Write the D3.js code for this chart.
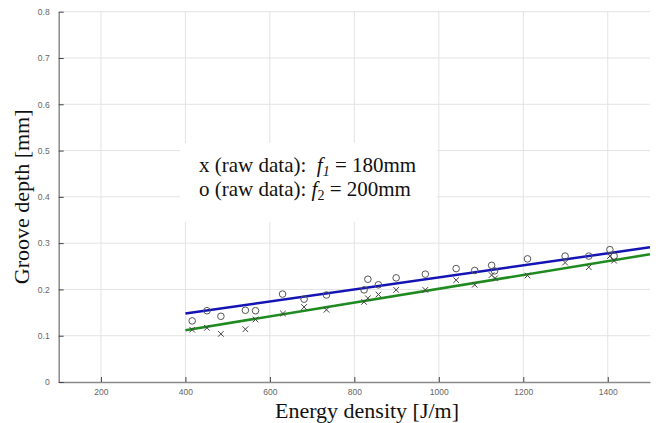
<!DOCTYPE html>
<html><head><meta charset="utf-8">
<script src="https://cdn.jsdelivr.net/npm/d3@7"></script>
<style>body{margin:0;background:#fff}</style>
</head><body>
<svg id="c" width="662" height="423"></svg>
<script>
// data
const xTicks = [200, 400, 600, 800, 1000, 1200, 1400];
const yTicks = [0, 0.1, 0.2, 0.3, 0.4, 0.5, 0.6, 0.7, 0.8];
const crossX = [416, 451, 484, 542, 566, 631, 681, 734, 823, 832, 857, 899, 968, 1041, 1085, 1125, 1133, 1210, 1299, 1355, 1405, 1415];
const crossY = [0.113, 0.117, 0.104, 0.114, 0.135, 0.148, 0.162, 0.156, 0.173, 0.181, 0.189, 0.199, 0.199, 0.220, 0.210, 0.231, 0.224, 0.230, 0.258, 0.248, 0.272, 0.262];
const circX = [416, 451, 484, 542, 566, 630, 681, 734, 823, 832, 857, 899, 968, 1041, 1085, 1125, 1132, 1210, 1299, 1355, 1405, 1415];
const circY = [0.132, 0.154, 0.142, 0.155, 0.154, 0.190, 0.179, 0.188, 0.199, 0.222, 0.210, 0.225, 0.233, 0.245, 0.241, 0.252, 0.240, 0.266, 0.272, 0.272, 0.286, 0.272];
const fitX = [400, 1500];
const fitBlue = [0.148, 0.291];
const fitGreen = [0.112, 0.276];

const svg = d3.select("#c");
const x = d3.scaleLinear().domain([100, 1500]).range([58.7, 650]);
const y = d3.scaleLinear().domain([0, 0.8]).range([382, 11.7]);

// grid
svg.append("g").selectAll("line").data(yTicks.slice(1)).join("line")
  .attr("x1", x(100)).attr("x2", x(1500)).attr("y1", d => y(d)).attr("y2", d => y(d))
  .attr("stroke", "#e3e3e3").attr("stroke-width", 1);
svg.append("g").selectAll("line").data(xTicks).join("line")
  .attr("x1", d => x(d)).attr("x2", d => x(d)).attr("y1", y(0)).attr("y2", y(0.8))
  .attr("stroke", "#e3e3e3").attr("stroke-width", 1);

// axes
const xAxis = svg.append("g").attr("transform", `translate(0,${y(0)})`)
  .call(d3.axisBottom(x).tickValues(xTicks).tickFormat(d3.format("d")).tickSizeInner(-5).tickSizeOuter(0).tickPadding(7));
const yAxis = svg.append("g").attr("transform", `translate(${x(100)},0)`)
  .call(d3.axisLeft(y).tickValues(yTicks).tickFormat(d => d === 0 ? "0" : d3.format(".1f")(d)).tickSizeInner(-5).tickSizeOuter(0).tickPadding(9));
[xAxis, yAxis].forEach(a => {
  a.select(".domain").attr("stroke", "#8a8a8a").attr("stroke-width", 1.5);
  a.selectAll(".tick line").attr("stroke", "#444");
  a.selectAll("text").attr("fill", "#666").attr("font-family", "Liberation Sans, Arial, sans-serif").attr("font-size", 8.5);
});
yAxis.selectAll(".tick line").attr("x1", 0).attr("x2", 5);

// legend box
svg.append("rect").attr("x", 180).attr("y", 143).attr("width", 257).attr("height", 79).attr("fill", "#fff");
const lg = svg.append("g").attr("font-family", "Liberation Serif, Times New Roman, serif").attr("font-size", 21).attr("fill", "#111");
const t1 = lg.append("text").attr("x", 199).attr("y", 172).attr("xml:space", "preserve");
t1.append("tspan").text("x (raw data):  ");
t1.append("tspan").attr("font-style", "italic").text("f");
t1.append("tspan").attr("font-style", "italic").attr("font-size", 14).attr("dy", 4).text("1");
t1.append("tspan").attr("dy", -4).text(" = 180mm");
const t2 = lg.append("text").attr("x", 199).attr("y", 196).attr("xml:space", "preserve");
t2.append("tspan").text("o (raw data): ");
t2.append("tspan").attr("font-style", "italic").text("f");
t2.append("tspan").attr("font-size", 14).attr("dy", 4).text("2");
t2.append("tspan").attr("dy", -4).text(" = 200mm");

// fit lines
const line = d3.line().x(d => x(d[0])).y(d => y(d[1]));
svg.append("path").datum(fitX.map((v, i) => [v, fitGreen[i]])).attr("d", line)
  .attr("stroke", "#1f8a1f").attr("stroke-width", 2.5).attr("fill", "none");
svg.append("path").datum(fitX.map((v, i) => [v, fitBlue[i]])).attr("d", line)
  .attr("stroke", "#1414b4").attr("stroke-width", 2.5).attr("fill", "none");

// circles
svg.append("g").selectAll("circle").data(circX.map((v, i) => [v, circY[i]])).join("circle")
  .attr("cx", d => x(d[0])).attr("cy", d => y(d[1])).attr("r", 3.3)
  .attr("fill", "none").attr("stroke", "#555").attr("stroke-width", 1);
// crosses
const s = 2.8;
svg.append("g").selectAll("path").data(crossX.map((v, i) => [v, crossY[i]])).join("path")
  .attr("d", d => { const cx = x(d[0]), cy = y(d[1]); return `M${cx-s},${cy-s}L${cx+s},${cy+s}M${cx-s},${cy+s}L${cx+s},${cy-s}`; })
  .attr("stroke", "#444").attr("stroke-width", 1);

// axis titles
svg.append("text").attr("x", 367).attr("y", 418).attr("text-anchor", "middle")
  .attr("font-family", "Liberation Serif, Times New Roman, serif").attr("font-size", 22).attr("fill", "#111")
  .text("Energy density [J/m]");
svg.append("text").attr("transform", `translate(29,${y(0.4)}) rotate(-90)`).attr("text-anchor", "middle")
  .attr("font-family", "Liberation Serif, Times New Roman, serif").attr("font-size", 22).attr("fill", "#111")
  .text("Groove depth [mm]");
</script>
</body></html>
